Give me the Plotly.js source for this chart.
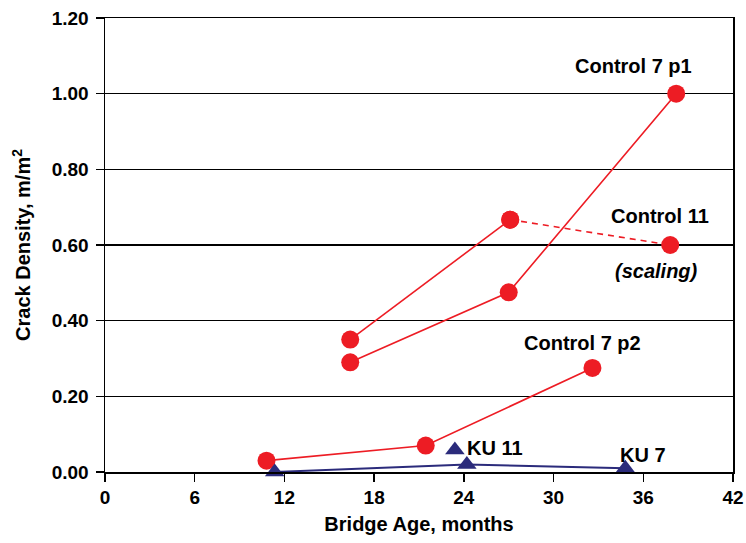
<!DOCTYPE html>
<html>
<head>
<meta charset="utf-8">
<script src="https://cdn.plot.ly/plotly-3.0.1.min.js"></script>
<style>html,body{margin:0;padding:0;background:#fff;}#chart{width:746px;height:543px;}</style>
</head>
<body>
<div id="chart"></div>
<script>
// Data
var c7p1X = [16.4, 27.0, 38.2];
var c7p1Y = [0.29, 0.475, 1.00];
var c11X = [16.4, 27.1, 37.8];
var c11Y = [0.35, 0.667, 0.60];
var c7p2X = [10.8, 21.45, 32.6];
var c7p2Y = [0.03, 0.07, 0.275];
var ku7X = [11.35, 24.2, 34.8];
var ku7Y = [0.0, 0.02, 0.01];
var ku11X = [23.4];
var ku11Y = [0.058];
var xTicks = [0, 6, 12, 18, 24, 30, 36, 42];
var yTicks = [0, 0.2, 0.4, 0.6, 0.8, 1.0, 1.2];

var RED = '#ED1C24';
var NAVY = '#2B2B7B';
var FAM = 'Liberation Sans, Arial, sans-serif';
var redMarker = {symbol: 'circle', size: 18, color: RED};
var triMarker = {symbol: 'triangle-up', size: 17, color: NAVY};

var traces = [
  {x: c7p1X, y: c7p1Y, mode: 'lines+markers', line: {color: RED, width: 1.6}, marker: redMarker, cliponaxis: false},
  {x: c11X.slice(0, 2), y: c11Y.slice(0, 2), mode: 'lines+markers', line: {color: RED, width: 1.6}, marker: redMarker, cliponaxis: false},
  {x: c11X.slice(1, 3), y: c11Y.slice(1, 3), mode: 'lines+markers', line: {color: RED, width: 1.6, dash: '6px,5px'}, marker: redMarker, cliponaxis: false},
  {x: c7p2X, y: c7p2Y, mode: 'lines+markers', line: {color: RED, width: 1.6}, marker: redMarker, cliponaxis: false},
  {x: ku7X, y: ku7Y, mode: 'lines+markers', line: {color: NAVY, width: 2}, marker: triMarker, cliponaxis: false},
  {x: ku11X, y: ku11Y, mode: 'markers', marker: triMarker, cliponaxis: false}
];

var lblFont = {family: FAM, size: 20, color: '#000', weight: 'bold'};
function ann(x, y, text, italic) {
  var f = Object.assign({}, lblFont);
  if (italic) f.style = 'italic';
  return {x: x, y: y, xref: 'x', yref: 'y', text: text, showarrow: false, font: f, xanchor: 'center', yanchor: 'middle'};
}

var layout = {
  width: 746, height: 543,
  margin: {l: 105, r: 13, t: 18, b: 71},
  paper_bgcolor: '#fff', plot_bgcolor: '#fff',
  showlegend: false,
  font: {family: FAM, color: '#000'},
  xaxis: {
    range: [0, 42], tickvals: xTicks, ticktext: xTicks.map(String),
    showgrid: false, zeroline: false,
    showline: true, mirror: true, linecolor: '#000', linewidth: 1.5,
    ticks: 'outside', ticklen: 8, tickwidth: 1.5, tickcolor: '#000',
    tickfont: {size: 19, weight: 'bold', family: FAM},
    title: {text: 'Bridge Age, months', font: {size: 20, weight: 'bold', family: FAM}, standoff: 9}
  },
  yaxis: {
    range: [0, 1.2], tickvals: yTicks, ticktext: yTicks.map(function (v) { return v.toFixed(2); }),
    showgrid: true, gridcolor: '#000', gridwidth: 1.2, zeroline: false,
    showline: true, mirror: true, linecolor: '#000', linewidth: 1.5,
    ticks: 'outside', ticklen: 8, tickwidth: 1.5, tickcolor: '#000',
    ticklabelstandoff: 3,
    tickfont: {size: 19, weight: 'bold', family: FAM},
    title: {text: 'Crack Density, m/m<sup>2</sup>', font: {size: 20, weight: 'bold', family: FAM}, standoff: 15}
  },
  annotations: [
    ann(35.37, 1.073, 'Control 7 p1'),
    ann(37.1, 0.677, 'Control 11'),
    ann(36.9, 0.531, '(scaling)', true),
    ann(31.96, 0.340, 'Control 7 p2'),
    ann(26.1, 0.063, 'KU 11'),
    ann(35.98, 0.045, 'KU 7')
  ]
};

Plotly.newPlot('chart', traces, layout, {displayModeBar: false, staticPlot: true});
</script>
</body>
</html>
